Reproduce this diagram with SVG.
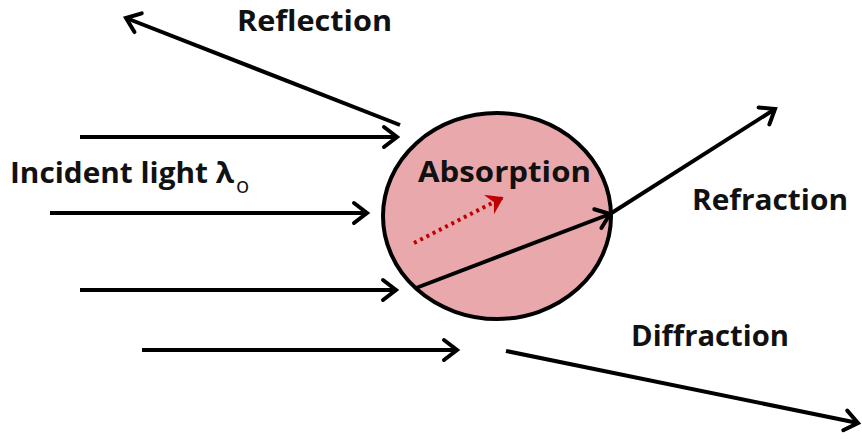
<svg xmlns="http://www.w3.org/2000/svg" width="862" height="439" viewBox="0 0 862 439">
<defs>
<style>
.lbl{font-family:"Open Sans","Liberation Sans",sans-serif;font-weight:700;font-size:29px;fill:#111}
.ray{stroke:#000;stroke-width:4;fill:none}
</style>
<marker id="ah" markerUnits="userSpaceOnUse" markerWidth="30" markerHeight="30" viewBox="-16 -15 20 30" refX="0" refY="0" orient="auto">
<path d="M-13,-10 L0,0 L-13,10" fill="none" stroke="#000" stroke-width="4" stroke-linecap="round" stroke-linejoin="miter"/>
</marker>
<marker id="ahr" markerUnits="userSpaceOnUse" markerWidth="30" markerHeight="30" viewBox="-16 -15 20 30" refX="0" refY="0" orient="auto">
<path d="M-12,-8 L0,0 L-12,8 L-8,0 Z" fill="#c00000" stroke="#c00000" stroke-width="2" stroke-linejoin="miter"/>
</marker>
</defs>
<rect width="862" height="439" fill="#fff"/>
<g id="particle">
<ellipse cx="497" cy="216" rx="114" ry="103" fill="#e9a9ac" stroke="#000" stroke-width="4"/>
</g>
<g id="connectors">
<line class="ray" x1="80" y1="137" x2="397" y2="137" marker-end="url(#ah)"/>
<line class="ray" x1="400" y1="125" x2="126" y2="18" marker-end="url(#ah)"/>
<line class="ray" x1="50" y1="213" x2="367" y2="213" marker-end="url(#ah)"/>
<line class="ray" x1="80" y1="290" x2="396" y2="290" marker-end="url(#ah)"/>
<line class="ray" x1="142" y1="350" x2="457" y2="350" marker-end="url(#ah)"/>
<line class="ray" x1="416" y1="288" x2="610" y2="214" marker-end="url(#ah)"/>
<line class="ray" x1="610" y1="214" x2="775" y2="109" marker-end="url(#ah)"/>
<line class="ray" x1="506" y1="351" x2="858" y2="423" marker-end="url(#ah)"/>
<line x1="414" y1="243" x2="502" y2="198" stroke="#c00000" stroke-width="4" stroke-dasharray="3 4" marker-end="url(#ahr)"/>
</g>
<g id="labels">
<text class="lbl" x="237" y="31" textLength="155" lengthAdjust="spacingAndGlyphs">Reflection</text>
<text class="lbl" x="10" y="183" textLength="224" lengthAdjust="spacingAndGlyphs">Incident light λ</text>
<text class="lbl" x="236" y="193" style="font-size:22px;font-weight:400">o</text>
<text class="lbl" x="418" y="182" textLength="173" lengthAdjust="spacingAndGlyphs">Absorption</text>
<text class="lbl" x="692" y="210" textLength="156" lengthAdjust="spacingAndGlyphs">Refraction</text>
<text class="lbl" x="631" y="346" textLength="158" lengthAdjust="spacingAndGlyphs">Diffraction</text>
</g>
</svg>
